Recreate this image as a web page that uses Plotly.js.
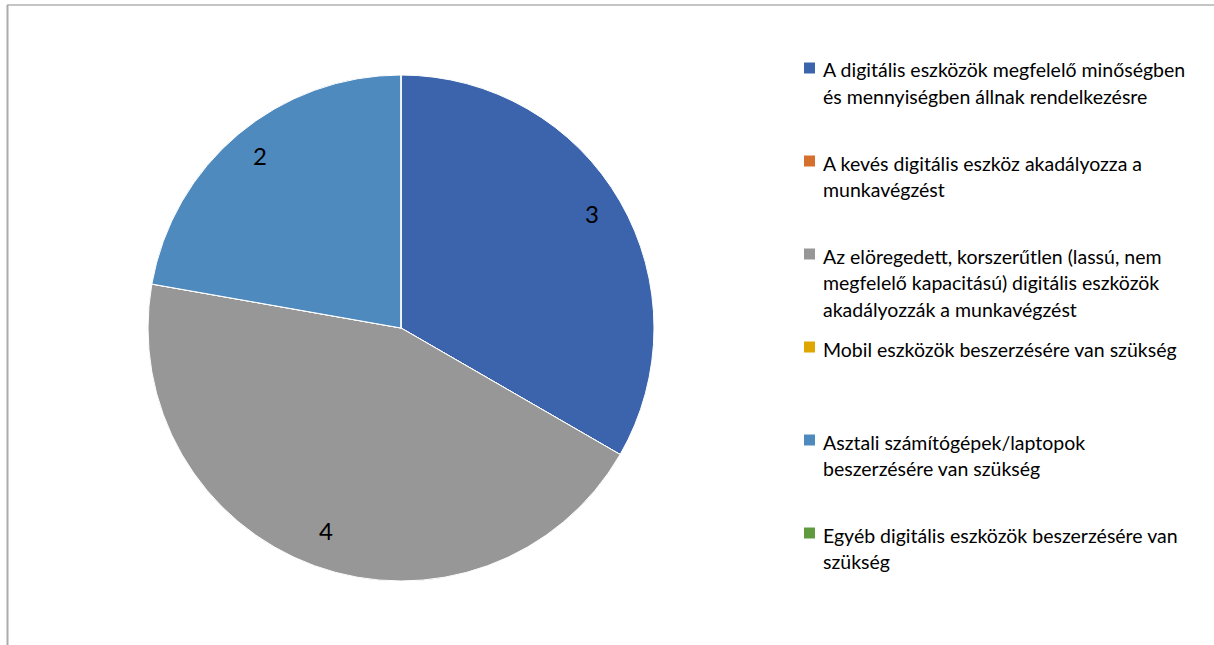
<!DOCTYPE html>
<html>
<head>
<meta charset="utf-8">
<script src="https://cdn.plot.ly/plotly-3.0.1.min.js"></script>
<style>html,body{margin:0;padding:0;background:#fff;}#chart{width:1214px;height:645px;}</style>
</head>
<body>
<div id="chart"></div>
<script>
const categories = [
  "A digitális eszközök megfelelő minőségben<br>és mennyiségben állnak rendelkezésre",
  "A kevés digitális eszköz akadályozza a<br>munkavégzést",
  "Az elöregedett, korszerűtlen (lassú, nem<br>megfelelő kapacitású) digitális eszközök<br>akadályozzák a munkavégzést",
  "Mobil eszközök beszerzésére van szükség",
  "Asztali számítógépek/laptopok<br>beszerzésére van szükség",
  "Egyéb digitális eszközök beszerzésére van<br>szükség"
];
const values = [3, 0, 4, 0, 2, 0];
const colors = ["#3C64AC", "#D5702C", "#979797", "#E0A600", "#4F8ABF", "#5F9A3F"];

const W = 1214, H = 645;
const domX = [148 / W, 654 / W];
const domY = [(H - 581) / H, (H - 75) / H];

const annotations = [];
const shapes = [];

// data labels, placed from the values along the slice bisector
const total = values.reduce((a, b) => a + b, 0);
const cxPx = (domX[0] + domX[1]) / 2 * W;
const cyPx = (domY[0] + domY[1]) / 2 * H;
const Rpx = Math.min((domX[1] - domX[0]) * W, (domY[1] - domY[0]) * H) / 2;
let cum = 0;
values.forEach((v, i) => {
  if (v > 0) {
    const mid = (cum + v / 2) / total * 2 * Math.PI;
    const r = 0.87 * Rpx;
    annotations.push({
      xref: "paper", yref: "paper",
      x: (cxPx + r * Math.sin(mid)) / W,
      y: (cyPx + r * Math.cos(mid)) / H,
      text: String(v), showarrow: false,
      xanchor: "center", yanchor: "middle", yshift: 4,
      font: {family: "Lato, 'Open Sans', sans-serif", size: 24, color: "#000"}
    });
  }
  cum += v;
});

// legend
const legTop = 70, legStep = 93, lineH = 26.5, legTextX = 821, legBoxX = 804, box = 11;
categories.forEach((c, i) => {
  const y0 = legTop + i * legStep;
  c.split("<br>").forEach((ln, j) => {
    annotations.push({
      xref: "paper", yref: "paper",
      x: legTextX / W, y: 1 - (y0 + j * lineH) / H,
      text: ln, showarrow: false, xanchor: "left", yanchor: "middle",
      font: {family: "Lato, 'Open Sans', sans-serif", size: 19.5, color: "#000"}
    });
  });
  shapes.push({
    type: "rect", xref: "paper", yref: "paper",
    x0: legBoxX / W, x1: (legBoxX + box) / W,
    y0: 1 - (y0 - 2 - box / 2 + box) / H, y1: 1 - (y0 - 2 - box / 2) / H,
    fillcolor: colors[i], line: {width: 0}
  });
});

// chart frame
shapes.push({type: "line", xref: "paper", yref: "paper", x0: 7 / W, x1: 1, y0: 1 - 5 / H, y1: 1 - 5 / H, line: {color: "#8C8C8C", width: 1.2}});
shapes.push({type: "line", xref: "paper", yref: "paper", x0: 7.5 / W, x1: 7.5 / W, y0: 1 - 5 / H, y1: 0, line: {color: "#ABABAB", width: 2}});

const data = [{
  type: "pie",
  labels: categories,
  values: values,
  sort: false,
  direction: "clockwise",
  rotation: 0,
  textinfo: "none",
  marker: {colors: colors, line: {color: "#FFFFFF", width: 1}},
  domain: {x: domX, y: domY},
  showlegend: false,
  hoverinfo: "label+value"
}];

const layout = {
  width: W, height: H,
  margin: {l: 0, r: 0, t: 0, b: 0},
  paper_bgcolor: "#FFFFFF",
  showlegend: false,
  annotations: annotations,
  shapes: shapes
};

Plotly.newPlot("chart", data, layout, {displayModeBar: false, staticPlot: true});
</script>
</body>
</html>
